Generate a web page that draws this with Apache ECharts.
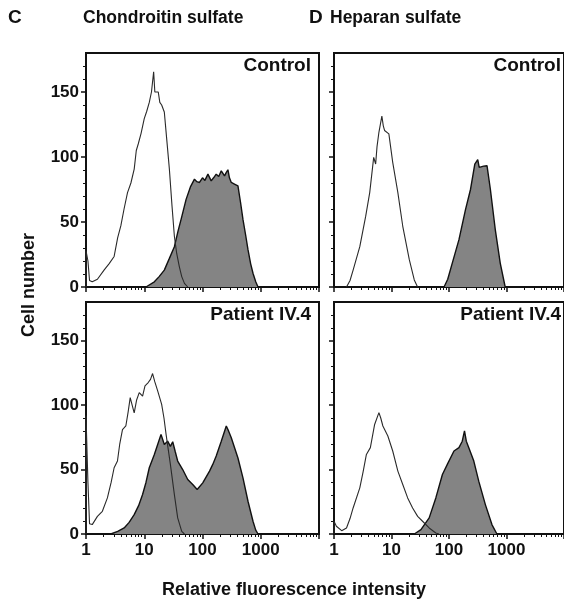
<!DOCTYPE html>
<html>
<head>
<meta charset="utf-8">
<script src="https://cdn.jsdelivr.net/npm/echarts@6/dist/echarts.min.js"></script>
<style>
  html, body { margin: 0; padding: 0; background: #fff; }
  #chart { width: 564px; height: 600px; }
</style>
</head>
<body>
<div id="chart"></div>
<script>
// axis ticks
const xTicksMajor = [1, 10, 100, 1000, 10000];
const xTickLabels = [1, 10, 100, 1000];
const xTicksMinor = [2, 3, 4, 5, 6, 7, 8, 9, 20, 30, 40, 50, 60, 70, 80, 90,
  200, 300, 400, 500, 600, 700, 800, 900, 2000, 3000, 4000, 5000, 6000, 7000, 8000, 9000];
const yTicksMajor = [0, 50, 100, 150];
const yTicksMinor = [10, 20, 30, 40, 60, 70, 80, 90, 110, 120, 130, 140, 160, 170];

const panelLabels = ['Control', 'Patient IV.4', 'Control', 'Patient IV.4'];

// C - chondroitin sulfate, control
const csControlOpen = [[1, 0], [1, 28], [1.08, 20], [1.15, 5], [1.28, 4], [1.57, 6], [2.04, 13], [2.5, 18], [3.04, 23.5],
  [3.5, 38], [3.96, 47], [4.5, 60], [5.16, 72.6], [5.9, 80], [6.72, 90.7], [7.3, 105], [7.88, 110], [8.8, 118],
  [10, 129.5], [11, 135], [12.2, 142], [13.3, 150], [14.5, 165.6], [15.2, 150], [15.9, 151], [17.4, 150], [18.5, 142],
  [19.9, 140], [22.1, 134.6], [24.5, 112], [27, 90.7], [30, 62], [32.9, 39], [36, 26], [40, 15.7], [44, 8], [49, 2.8], [55.8, 0]];
const csControlFilled = [[10.7, 0], [14.9, 4], [18, 8], [22.1, 13], [27, 22], [32.9, 31], [38, 43], [42.9, 52], [52.3, 67.4],
  [62, 77], [72.8, 83], [80, 81], [88.8, 80.4], [100, 84], [110, 82], [124, 86.8], [141, 81.6], [155, 84], [172, 86.8],
  [190, 85], [210, 89.4], [239, 85.5], [255, 88], [273, 90.2], [290, 84], [312, 80.4], [360, 79], [406, 77.8], [450, 65],
  [495, 52], [550, 40], [604, 28.7], [670, 18], [736, 10.6], [820, 4], [898, 0]];

// C - chondroitin sulfate, patient
const csPatientOpen = [[1, 0], [1, 92], [1.08, 40], [1.15, 8], [1.28, 7.3], [1.57, 13.7], [1.91, 17.6], [2.33, 28], [2.7, 40],
  [3.04, 51.4], [3.47, 56.6], [3.8, 70], [4.23, 81], [4.83, 83.8], [5.3, 95], [5.74, 105.8], [6.2, 100], [6.72, 94],
  [7.4, 104], [8.2, 109.7], [9.36, 107], [10.3, 115], [11.7, 117.5], [12.8, 120], [13.9, 124.5], [15.2, 118], [17, 111],
  [19.9, 100.6], [21.8, 90], [23.7, 77.3], [28.1, 54], [32.9, 30.6], [37.5, 12.5], [44, 2], [49, 0]];
const csPatientFilled = [[2.66, 0], [3.5, 2], [4.52, 4.7], [5.5, 9], [6.72, 15], [8, 22], [9.36, 30.6], [10.7, 40], [12.2, 51.4],
  [14.9, 61.7], [17, 69.5], [19.4, 77.3], [22.1, 69.5], [25.2, 72], [28.1, 68], [30.8, 71.6], [34, 64], [37.5, 56.6],
  [45.7, 50], [55.8, 42.3], [68, 38.4], [81, 34.5], [101, 39.7], [132, 48.8], [150, 54], [172, 60.5], [210, 72],
  [256, 83.8], [280, 80], [312, 74.7], [406, 59], [495, 43.6], [604, 25.4], [736, 9.9], [820, 3], [898, 0]];

// D - heparan sulfate, control
const hsControlOpen = [[1.65, 0], [1.9, 5], [2.15, 13], [2.81, 31], [3.56, 54.5], [4.18, 72.6], [4.9, 99.7], [5.3, 94.6],
  [5.6, 108], [6.04, 119], [6.8, 131.5], [7.2, 124], [7.57, 120.4], [9, 117.8], [10.5, 95.9], [12.9, 72.6], [15.7, 46.7],
  [20.4, 21], [24.9, 5.4], [28.4, 0]];
const hsControlFilled = [[82, 0], [95, 6], [114, 18.4], [149, 36.4], [194, 59.7], [237, 75.2], [281, 94.6], [316, 98],
  [335, 92], [352, 92], [400, 93], [458, 93.3], [524, 75.2], [638, 44.2], [778, 18.4], [949, 0]];

// D - heparan sulfate, patient
const hsPatientOpen = [[1, 0], [1, 10], [1.1, 6], [1.19, 4.7], [1.36, 2.6], [1.65, 4.7], [1.9, 12], [2.15, 20.2], [2.81, 35.8],
  [3.2, 48], [3.66, 61.7], [4.29, 67], [5.09, 85], [6.04, 94.2], [6.5, 90], [7.08, 83.8], [8.64, 76], [10.5, 64.4],
  [12.9, 48.8], [15.7, 38.4], [19.1, 28], [23.3, 20.2], [28.5, 13.7], [34.7, 9.9], [45.2, 4.7], [59, 0.8], [67, 0]];
const hsPatientFilled = [[24.9, 0], [32.5, 3.4], [45.2, 12.5], [59, 28], [76.8, 46.2], [93.5, 54], [122, 64.4], [149, 67],
  [170, 72], [186, 80], [200, 72], [221, 67], [270, 56.6], [329, 41], [429, 22.8], [558, 7.3], [681, 0]];

const panels = [
  { open: csControlOpen, filled: csControlFilled },
  { open: csPatientOpen, filled: csPatientFilled },
  { open: hsControlOpen, filled: hsControlFilled },
  { open: hsPatientOpen, filled: hsPatientFilled }
];

const FONT = '"Liberation Sans", Arial, Helvetica, sans-serif';
const INK = '#111';

// panel boxes: [left, top, width, height]
const boxes = [
  [86, 53, 233, 234],
  [86, 302, 233, 232],
  [334, 53, 231, 234],
  [334, 302, 231, 232]
];

const chart = echarts.init(document.getElementById('chart'), null, { renderer: 'canvas' });

const grid = [], xAxis = [], yAxis = [], series = [], graphic = [];

boxes.forEach((b, i) => {
  const isBottom = i % 2 === 1;
  const isLeft = i < 2;
  grid.push({ left: b[0], top: b[1], width: b[2], height: b[3], show: true, borderColor: INK, borderWidth: 2, backgroundColor: 'transparent' });

  xAxis.push({
    type: 'log', logBase: 10, gridIndex: i, min: 1, max: 10000, position: 'bottom',
    axisLine: { show: true, lineStyle: { color: INK, width: 2 } },
    axisTick: { show: true, customValues: xTicksMajor, length: 5, lineStyle: { color: INK, width: 1.5 } },
    axisLabel: {
      show: isBottom, customValues: xTickLabels, margin: 8,
      formatter: (v) => String(Math.round(v)),
      color: INK, fontSize: 17, fontWeight: 'bold', fontFamily: FONT
    },
    splitLine: { show: false }
  });
  xAxis.push({
    type: 'log', logBase: 10, gridIndex: i, min: 1, max: 10000, position: 'bottom',
    axisLine: { show: false },
    axisTick: { show: true, customValues: xTicksMinor, length: 3, lineStyle: { color: INK, width: 1 } },
    axisLabel: { show: false },
    splitLine: { show: false }
  });

  yAxis.push({
    type: 'value', gridIndex: i, min: 0, max: 180, position: 'left',
    axisLine: { show: true, lineStyle: { color: INK, width: 2 } },
    axisTick: { show: true, customValues: yTicksMajor, length: 5, lineStyle: { color: INK, width: 1.5 } },
    axisLabel: {
      show: isLeft, customValues: yTicksMajor, margin: 7,
      color: INK, fontSize: 17, fontWeight: 'bold', fontFamily: FONT
    },
    splitLine: { show: false }
  });
  yAxis.push({
    type: 'value', gridIndex: i, min: 0, max: 180, position: 'left',
    axisLine: { show: false },
    axisTick: { show: true, customValues: yTicksMinor, length: 3, lineStyle: { color: INK, width: 1 } },
    axisLabel: { show: false },
    splitLine: { show: false }
  });

  series.push({
    type: 'line', xAxisIndex: 2 * i, yAxisIndex: 2 * i, data: panels[i].filled,
    showSymbol: false, symbol: 'none', z: 2,
    lineStyle: { color: INK, width: 1.4 },
    areaStyle: { color: '#848484', opacity: 1 }
  });
  series.push({
    type: 'line', xAxisIndex: 2 * i, yAxisIndex: 2 * i, data: panels[i].open,
    showSymbol: false, symbol: 'none', z: 3,
    lineStyle: { color: '#2a2a2a', width: 1.1 }
  });

  graphic.push({
    type: 'text', z: 10,
    style: {
      text: panelLabels[i], x: b[0] + b[2] - (isLeft ? 8 : 4), y: b[1] + 13,
      align: 'right', verticalAlign: 'middle', textAlign: 'right', textVerticalAlign: 'middle',
      font: 'bold 19px ' + FONT, fill: INK
    }
  });
});

graphic.push(
  { type: 'text', style: { text: 'C', x: 8, y: 18, verticalAlign: 'middle', textVerticalAlign: 'middle', font: 'bold 19px ' + FONT, fill: INK } },
  { type: 'text', style: { text: 'Chondroitin sulfate', x: 83, y: 18, verticalAlign: 'middle', textVerticalAlign: 'middle', font: 'bold 17.5px ' + FONT, fill: INK } },
  { type: 'text', style: { text: 'D', x: 309, y: 18, verticalAlign: 'middle', textVerticalAlign: 'middle', font: 'bold 19px ' + FONT, fill: INK } },
  { type: 'text', style: { text: 'Heparan sulfate', x: 330, y: 18, verticalAlign: 'middle', textVerticalAlign: 'middle', font: 'bold 17.5px ' + FONT, fill: INK } },
  {
    type: 'text', x: 29, y: 285, rotation: Math.PI / 2,
    style: { text: 'Cell number', x: 0, y: 0, align: 'center', verticalAlign: 'middle', textAlign: 'center', textVerticalAlign: 'middle', font: 'bold 18px ' + FONT, fill: INK }
  },
  {
    type: 'text',
    style: { text: 'Relative fluorescence intensity', x: 294, y: 590, align: 'center', verticalAlign: 'middle', textAlign: 'center', textVerticalAlign: 'middle', font: 'bold 18px ' + FONT, fill: INK }
  }
);

chart.setOption({
  animation: false,
  backgroundColor: '#fff',
  grid, xAxis, yAxis, series, graphic
});
</script>
</body>
</html>
